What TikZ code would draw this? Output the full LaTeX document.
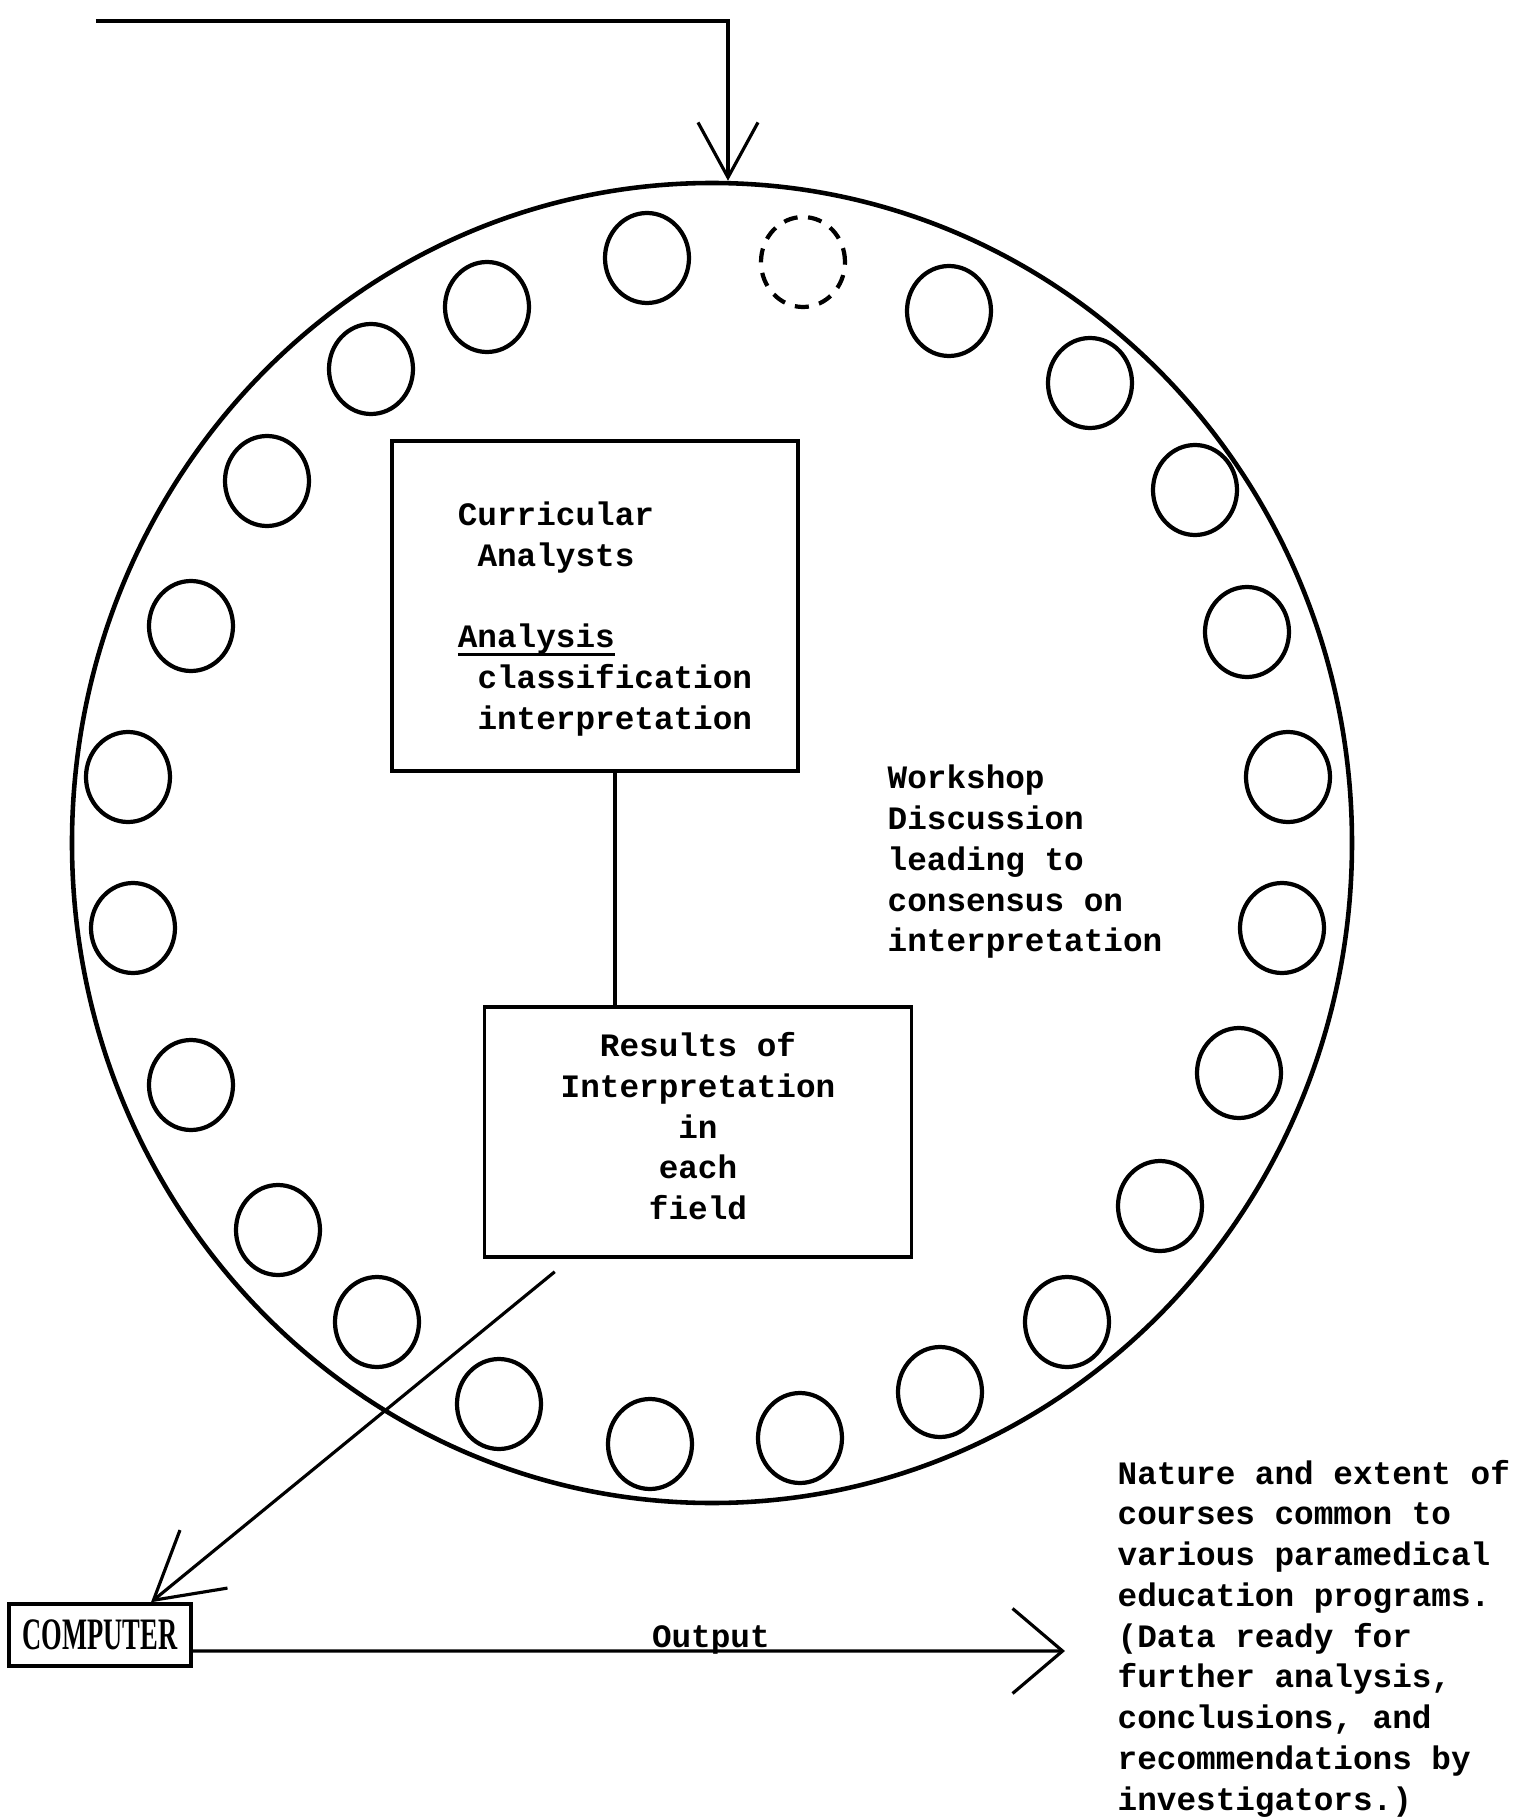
\documentclass[tikz,border=0pt]{standalone}
\usepackage{fontspec}
\setmonofont{Liberation Mono}
\newfontfamily\compfont{Liberation Serif}
\usetikzlibrary{arrows.meta,shapes.geometric}

% heavy typed underline
\newcommand{\thickul}[1]{\setbox0=\hbox{#1}\rlap{\rule[-2.4pt]{\wd0}{1.1pt}}\box0}

\begin{document}
\begin{tikzpicture}[
    every node/.style={font=\ttfamily\bfseries\fontsize{9.3}{11.6}\selectfont},
    seat/.style={draw, ellipse, line width=1.2pt, inner sep=0pt,
      minimum width=0.84cm, minimum height=0.9cm},
    panel/.style={draw, line width=1pt, inner sep=0pt},
    note/.style={align=left, inner sep=0pt},
    wire/.style={line width=0.9pt},
  ]
  \useasboundingbox (-7.12,8.43) rectangle (8.05,-9.75);

  % the round table
  \node[draw, ellipse, line width=1.3pt, inner sep=0pt,
    minimum width=12.8cm, minimum height=13.2cm] (table) at (0,0) {};

  % seats round the table
  \path
    (-0.65,5.85) node[seat] (s1) {}
    (0.91,5.81) node[seat, dash pattern=on 4pt off 3pt] (s2) {}
    (2.37,5.32) node[seat] (s3) {}
    (3.78,4.60) node[seat] (s4) {}
    (4.83,3.53) node[seat] (s5) {}
    (5.35,2.11) node[seat] (s6) {}
    (5.76,0.66) node[seat] (s7) {}
    (5.70,-0.85) node[seat] (s8) {}
    (5.27,-2.30) node[seat] (s9) {}
    (4.48,-3.63) node[seat] (s10) {}
    (3.55,-4.79) node[seat] (s11) {}
    (2.28,-5.49) node[seat] (s12) {}
    (0.88,-5.95) node[seat] (s13) {}
    (-0.62,-6.01) node[seat] (s14) {}
    (-2.13,-5.61) node[seat] (s15) {}
    (-3.35,-4.79) node[seat] (s16) {}
    (-4.34,-3.87) node[seat] (s17) {}
    (-5.21,-2.42) node[seat] (s18) {}
    (-5.79,-0.85) node[seat] (s19) {}
    (-5.84,0.66) node[seat] (s20) {}
    (-5.21,2.17) node[seat] (s21) {}
    (-4.45,3.62) node[seat] (s22) {}
    (-3.41,4.74) node[seat] (s23) {}
    (-2.25,5.36) node[seat] (s24) {};

  % boxes and notes
  \node[panel, minimum width=4.06cm, minimum height=3.3cm, align=left] (analysts)
    at (-1.17,2.37) {\rule{0pt}{0.5cm}Curricular\\ \hphantom{A}Analysts\\[11.6pt] \thickul{Analysis}\\
    \hphantom{A}classification\kern-0.2cm\\ \hphantom{A}interpretation\kern-0.2cm};
  \node[panel, minimum width=4.27cm, minimum height=2.5cm, align=center] (results)
    at (-0.14,-2.89) {Results of\\ Interpretation\\ in\\ each\\ \rule[-0.12cm]{0pt}{0.12cm}field};
  \node[note, anchor=west] (workshop) at (1.75,-0.19)
    {Workshop\\ Discussion\\ leading to\\ consensus on\\ interpretation};
  \node[panel, minimum width=1.82cm, minimum height=0.62cm] (computer) at (-6.12,-7.92)
    {\compfont\bfseries\fontsize{12.8}{14}\selectfont\scalebox{0.59}[1]{COMPUTER}};
  \node[note, anchor=west] (outcome) at (4.05,-7.955)
    {Nature and extent of\\ courses common to\\ various paramedical\\ education programs.\\
    (Data ready for\\ further analysis,\\ conclusions, and\\ recommendations by\\
    investigators.)};

  \coordinate (feed) at (-6.16,8.22);
  \coordinate (outend) at (3.53,-8.08);

  % connectors
  \draw[wire, -{Straight Barb[length=5.5mm, width=6mm]}] (feed) -| ([xshift=1.6mm]table.north);
  \draw[wire] ([xshift=2mm]analysts.south) -- ([xshift=2mm]analysts.south |- results.north);
  \draw[wire, -{Straight Barb[length=6.5mm, width=7.5mm]}]
    ([xshift=7.2mm, yshift=-1.3mm]results.south west) -- ([xshift=5.1mm]computer.north);
  \draw[wire, -{Straight Barb[length=5mm, width=8.5mm]}] ([yshift=-1.6mm]computer.east)
    -- node[pos=0.594, anchor=base, yshift=1pt, inner sep=0pt] (outlabel) {Output} (outend);
\end{tikzpicture}
\end{document}
